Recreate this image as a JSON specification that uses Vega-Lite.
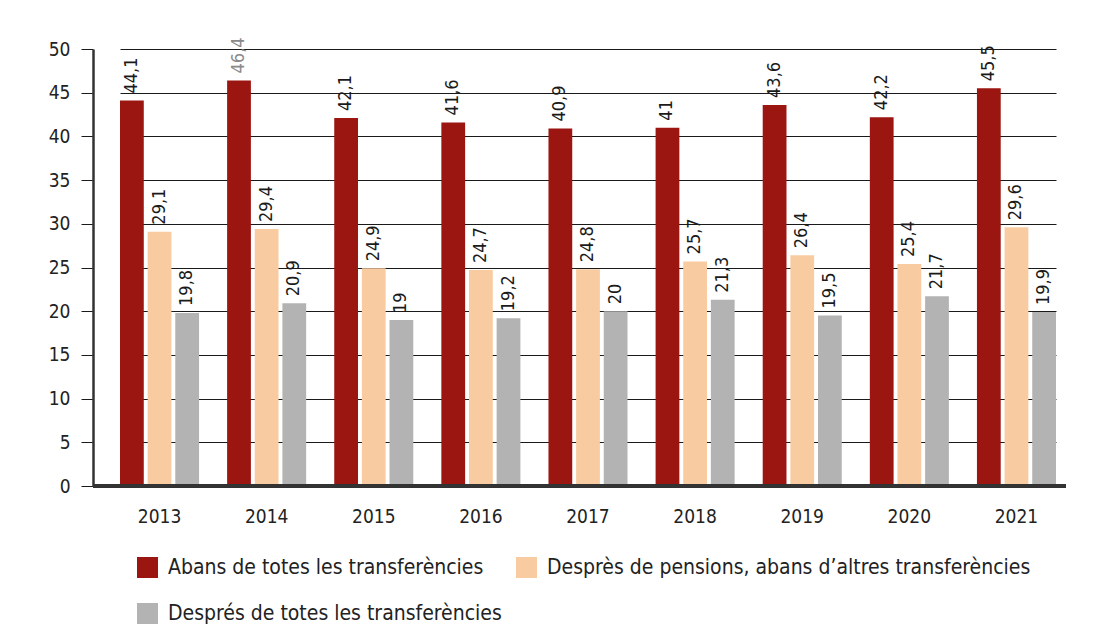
{
  "$schema": "https://vega.github.io/schema/vega-lite/v6.json",
  "autosize": {"type": "none"},
  "padding": {"left": 93, "top": 49, "right": 27, "bottom": 155},
  "width": 973,
  "height": 437,
  "background": "white",
  "config": {
    "font": "DejaVu Sans Condensed",
    "view": {"stroke": null},
    "locale": {"number": {"decimal": ",", "thousands": ".", "grouping": [3], "currency": ["", " €"]}}
  },
  "data": {
    "values": [
      {"any": "2013", "serie": "Abans de totes les transferències", "valor": 44.1},
      {"any": "2013", "serie": "Desprès de pensions, abans d’altres transferències", "valor": 29.1},
      {"any": "2013", "serie": "Després de totes les transferències", "valor": 19.8},
      {"any": "2014", "serie": "Abans de totes les transferències", "valor": 46.4},
      {"any": "2014", "serie": "Desprès de pensions, abans d’altres transferències", "valor": 29.4},
      {"any": "2014", "serie": "Després de totes les transferències", "valor": 20.9},
      {"any": "2015", "serie": "Abans de totes les transferències", "valor": 42.1},
      {"any": "2015", "serie": "Desprès de pensions, abans d’altres transferències", "valor": 24.9},
      {"any": "2015", "serie": "Després de totes les transferències", "valor": 19},
      {"any": "2016", "serie": "Abans de totes les transferències", "valor": 41.6},
      {"any": "2016", "serie": "Desprès de pensions, abans d’altres transferències", "valor": 24.7},
      {"any": "2016", "serie": "Després de totes les transferències", "valor": 19.2},
      {"any": "2017", "serie": "Abans de totes les transferències", "valor": 40.9},
      {"any": "2017", "serie": "Desprès de pensions, abans d’altres transferències", "valor": 24.8},
      {"any": "2017", "serie": "Després de totes les transferències", "valor": 20},
      {"any": "2018", "serie": "Abans de totes les transferències", "valor": 41},
      {"any": "2018", "serie": "Desprès de pensions, abans d’altres transferències", "valor": 25.7},
      {"any": "2018", "serie": "Després de totes les transferències", "valor": 21.3},
      {"any": "2019", "serie": "Abans de totes les transferències", "valor": 43.6},
      {"any": "2019", "serie": "Desprès de pensions, abans d’altres transferències", "valor": 26.4},
      {"any": "2019", "serie": "Després de totes les transferències", "valor": 19.5},
      {"any": "2020", "serie": "Abans de totes les transferències", "valor": 42.2},
      {"any": "2020", "serie": "Desprès de pensions, abans d’altres transferències", "valor": 25.4},
      {"any": "2020", "serie": "Després de totes les transferències", "valor": 21.7},
      {"any": "2021", "serie": "Abans de totes les transferències", "valor": 45.5},
      {"any": "2021", "serie": "Desprès de pensions, abans d’altres transferències", "valor": 29.6},
      {"any": "2021", "serie": "Després de totes les transferències", "valor": 19.9}
    ]
  },
  "layer": [
    {
      "mark": {"type": "bar"},
      "encoding": {
        "x": {
          "field": "any", "type": "nominal",
          "scale": {"range": [27, 963], "paddingInner": 0.262, "paddingOuter": 0},
          "axis": {
            "title": null, "labelAngle": 0, "ticks": false, "domain": false,
            "labelFontSize": 19, "labelColor": "#222", "labelPadding": 21
          }
        },
        "xOffset": {
          "field": "serie", "type": "nominal",
          "sort": ["Abans de totes les transferències", "Desprès de pensions, abans d’altres transferències", "Després de totes les transferències"],
          "scale": {"paddingInner": 0.14, "paddingOuter": 0}
        },
        "y": {
          "field": "valor", "type": "quantitative",
          "scale": {"domain": [0, 50]},
          "axis": {
            "title": null, "values": [0, 5, 10, 15, 20, 25, 30, 35, 40, 45, 50],
            "grid": true, "gridColor": "#1a1a1a", "gridWidth": 1, "gridOpacity": 1,
            "tickSize": 12, "tickColor": "#1a1a1a",
            "labelFontSize": 19, "labelColor": "#222", "labelPadding": 11,
            "domainColor": "#333", "domainWidth": 2.5
          }
        },
        "color": {
          "field": "serie", "type": "nominal",
          "sort": ["Abans de totes les transferències", "Desprès de pensions, abans d’altres transferències", "Després de totes les transferències"],
          "scale": {"range": ["#9B1511", "#F9CBA1", "#B3B3B3"]},
          "legend": {
            "title": null, "orient": "none", "legendX": 44, "legendY": 508,
            "direction": "horizontal", "columns": 2,
            "symbolType": "square", "symbolSize": 441, "symbolStrokeWidth": 0, "symbolOpacity": 1,
            "labelFontSize": 21, "labelColor": "#222", "labelOffset": 10,
            "columnPadding": 14, "rowPadding": 24, "labelLimit": 600
          }
        }
      }
    },
    {
      "mark": {"type": "text", "angle": 270, "align": "left", "baseline": "middle", "dx": 7, "fontSize": 18},
      "encoding": {
        "x": {"field": "any", "type": "nominal"},
        "xOffset": {
          "field": "serie", "type": "nominal",
          "sort": ["Abans de totes les transferències", "Desprès de pensions, abans d’altres transferències", "Després de totes les transferències"]
        },
        "y": {"field": "valor", "type": "quantitative"},
        "text": {"field": "valor", "type": "quantitative", "format": ".3~g"},
        "color": {"condition": {"test": "datum.valor === 46.4", "value": "#8a8a8a"}, "value": "#1a1a1a"}
      }
    },
    {
      "mark": {"type": "rule", "color": "#333", "strokeWidth": 3},
      "encoding": {"y": {"datum": 0}}
    }
  ]
}
